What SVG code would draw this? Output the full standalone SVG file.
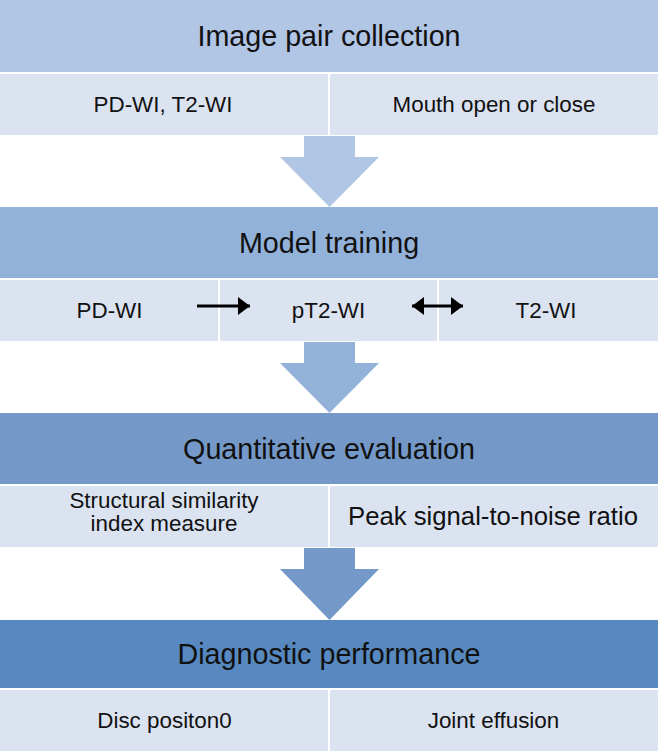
<svg xmlns="http://www.w3.org/2000/svg" width="658" height="751" viewBox="0 0 658 751">
<style>
text{font-family:"Liberation Sans",Arial,sans-serif;fill:#111;text-anchor:middle}
.h{font-size:28.7px}
.s{font-size:22.4px}
.sub{fill:#dbe3f1}
.h1{fill:#b1c5e5}.h2{fill:#93b2da}.h3{fill:#7499c9}.h4{fill:#5789c0}
.small{stroke:#000;stroke-width:3;fill:none}
</style>
<defs>
<marker id="ah" markerUnits="userSpaceOnUse" markerWidth="12" markerHeight="18" refX="12" refY="9" orient="auto-start-reverse">
<path d="M0,0 L12,9 L0,18 Z" fill="#000"/>
</marker>
</defs>
<rect width="658" height="751" fill="#fff"/>

<g id="stage1">
<rect class="h1" x="0" y="0" width="658" height="72"/>
<text class="h" x="329" y="46">Image pair collection</text>
</g>
<g id="stage1-a">
<rect class="sub" x="0" y="74" width="328" height="61"/>
<text class="s" x="163" y="112">PD-WI, T2-WI</text>
</g>
<g id="stage1-b">
<rect class="sub" x="330" y="74" width="328" height="61"/>
<text class="s" x="494" y="112">Mouth open or close</text>
</g>

<g id="stage2">
<rect class="h2" x="0" y="207" width="658" height="71"/>
<text class="h" x="329" y="253">Model training</text>
</g>
<g id="stage2-a">
<rect class="sub" x="0" y="280" width="218" height="61"/>
<text class="s" x="109.5" y="318">PD-WI</text>
</g>
<g id="stage2-b">
<rect class="sub" x="220" y="280" width="217" height="61"/>
<text class="s" x="328.5" y="318">pT2-WI</text>
</g>
<g id="stage2-c">
<rect class="sub" x="439" y="280" width="219" height="61"/>
<text class="s" x="546" y="318">T2-WI</text>
</g>

<g id="stage3">
<rect class="h3" x="0" y="413" width="658" height="71"/>
<text class="h" x="329" y="459">Quantitative evaluation</text>
</g>
<g id="stage3-a">
<rect class="sub" x="0" y="486" width="328" height="61"/>
<text class="s" x="164" y="508">Structural similarity</text>
<text class="s" x="164" y="531">index measure</text>
</g>
<g id="stage3-b">
<rect class="sub" x="330" y="486" width="328" height="61"/>
<text x="493" y="525" style="font-size:25.7px">Peak signal-to-noise ratio</text>
</g>

<g id="stage4">
<rect class="h4" x="0" y="620" width="658" height="68"/>
<text class="h" x="329" y="664">Diagnostic performance</text>
</g>
<g id="stage4-a">
<rect class="sub" x="0" y="690" width="328" height="61"/>
<text class="s" x="164.5" y="728">Disc positon0</text>
</g>
<g id="stage4-b">
<rect class="sub" x="330" y="690" width="328" height="61"/>
<text class="s" x="493.5" y="728">Joint effusion</text>
</g>

<g id="connectors">
<path class="h1" d="M304,136 L355,136 L355,157 L379,157 L329.5,207 L280,157 L304,157 Z"/>
<path class="h2" d="M304,342 L355,342 L355,363 L379,363 L329.5,413 L280,363 L304,363 Z"/>
<path class="h3" d="M304,548 L355,548 L355,569 L379,569 L329.5,620 L280,569 L304,569 Z"/>
<line class="small" x1="197" y1="306" x2="250" y2="306" marker-end="url(#ah)"/>
<line class="small" x1="412" y1="306" x2="463" y2="306" marker-start="url(#ah)" marker-end="url(#ah)"/>
</g>
</svg>
